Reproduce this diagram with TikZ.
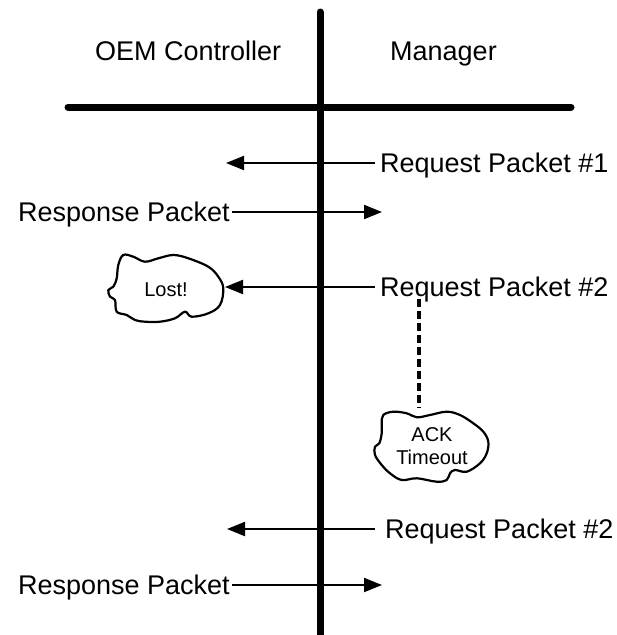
\documentclass[tikz,border=0pt]{standalone}
\usepackage{fontspec}
\setmainfont{Liberation Sans}
\usetikzlibrary{arrows.meta}
\begin{document}
\begin{tikzpicture}[x=1pt,y=-1pt,
  lifeline/.style={line width=7pt,line cap=round},
  msg/.style={line width=2pt,-{Triangle[length=18pt,width=14pt]}},
  biglbl/.style={inner sep=0pt,font=\fontsize{27}{32}\selectfont},
  smalllbl/.style={inner sep=0pt,align=center,font=\fontsize{20}{25}\selectfont},
  cloudline/.style={line width=2.2pt,line join=round},
  waitline/.style={line width=3.5pt,dash pattern=on 8pt off 4pt}]
\useasboundingbox (0,0) rectangle (617,635);

% swim lane cross
\coordinate (vtop) at (320,12);
\coordinate (vbot) at (320,640);
\coordinate (hl) at (68,107);
\coordinate (hr) at (571,107);
\draw[lifeline] (vtop) -- (vbot);
\draw[lifeline] (hl) -- (hr);

% column headings
\node[biglbl,anchor=base west] (oem) at (95,60) {OEM Controller};
\node[biglbl,anchor=base west] (mgr) at (390,60) {Manager};

% first request / response
\node[biglbl,anchor=base west] (req1) at (380,172.5) {Request Packet \#1};
\coordinate (t1) at (226,163);
\draw[msg] (req1.west |- t1) ++(-5,0) -- (t1);

\node[biglbl,anchor=base east] (resp1) at (230,221.5) {Response Packet};
\coordinate (t2) at (382,212);
\draw[msg] (resp1.east |- t2) ++(2,0) -- (t2);

% second request, lost on the way
\node[biglbl,anchor=base west] (req2) at (380,296.5) {Request Packet \#2};
\node[smalllbl] (lost) at (166,290) {Lost!};
\coordinate (lostedge) at (225,287);
\draw[msg] (req2.west |- lostedge) ++(-5,0) -- (lostedge);
\draw[cloudline] plot[smooth cycle,tension=0.6] coordinates {
  (123.3,255) (133.3,256.7) (145,261.7) (158.3,258.3) (173.3,255)
  (188.3,258.3) (208.3,266.7) (218.3,276.7) (223.3,288.3) (220,305)
  (208.3,313.3) (191.7,316.7) (185,311.7) (175,318.3) (160,321.7)
  (145,321.7) (135,320) (126.7,315) (116.7,311.7) (115,300)
  (110,296.7) (108.3,290) (113.3,286.7) (116.7,278.3) (118.3,265)};

% acknowledgement timeout
\node[smalllbl] (ack) at (432,446) {ACK\\[-2pt]Timeout};
\coordinate (waitstart) at (419,299);
\coordinate (acktop) at (419,408);
\draw[waitline] (waitstart) -- (acktop);
\draw[cloudline] plot[smooth cycle,tension=0.6] coordinates {
  (383.3,415) (393.3,411.7) (406.7,413.3) (416.7,417.3) (430,415)
  (446.7,411.7) (460,415) (473.3,423.3) (483.3,431.7) (488.3,441.7)
  (486.7,453.3) (480,463.3) (466.7,471.7) (455,470) (450,473.3)
  (446.7,480) (436.7,481.7) (416.7,478.3) (401.7,480) (390,473.3)
  (381.7,465) (375,455) (375,446.7) (379.3,443.3) (381.7,433.3)
  (381.7,423.3)};

% retried request / response
\node[biglbl,anchor=base west] (req3) at (385,538.5) {Request Packet \#2};
\coordinate (t4) at (227,529);
\draw[msg] (req3.west |- t4) ++(-10,0) -- (t4);

\node[biglbl,anchor=base east] (resp2) at (230,594.5) {Response Packet};
\coordinate (t5) at (382,585);
\draw[msg] (resp2.east |- t5) ++(2,0) -- (t5);
\end{tikzpicture}
\end{document}
